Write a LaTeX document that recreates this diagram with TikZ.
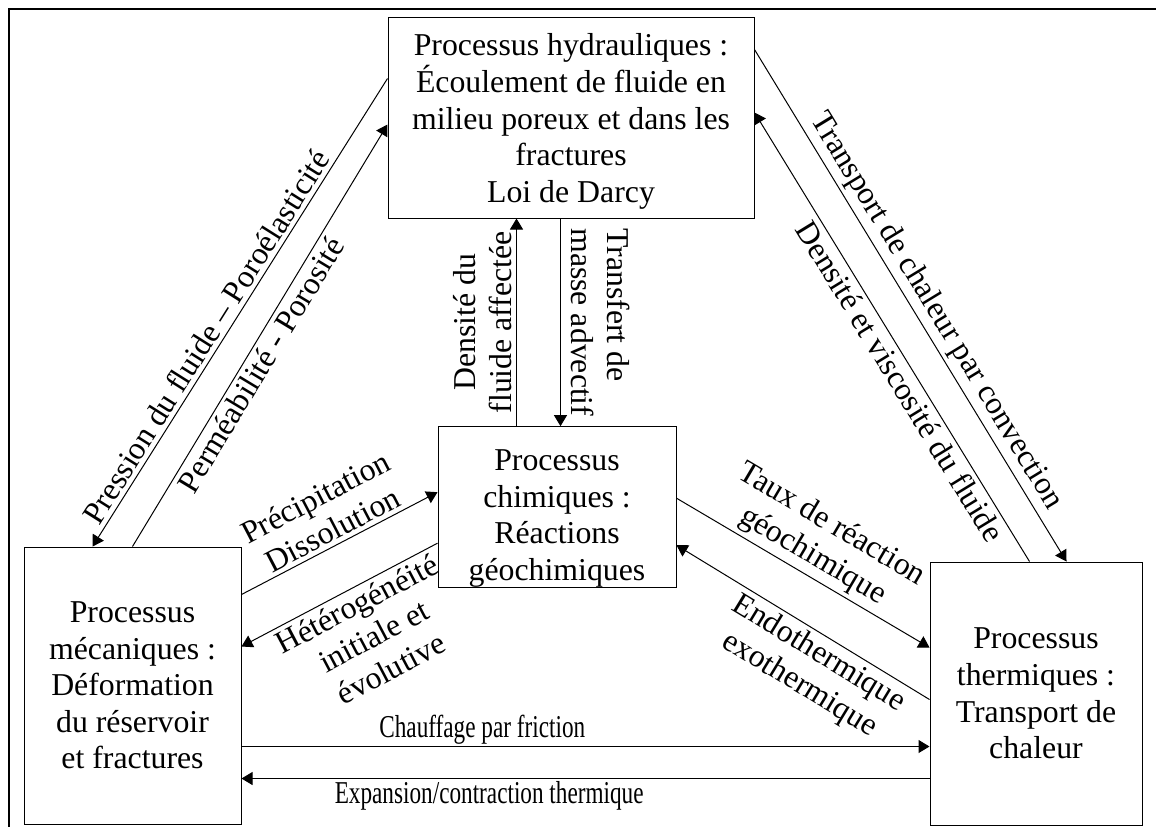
\documentclass[tikz,border=0pt]{standalone}
\usepackage{fontspec}
\setmainfont{Liberation Serif}
\usetikzlibrary{calc,arrows.meta}
\newcommand{\narrow}[1]{\scalebox{.73}[1]{#1}}

\begin{document}
\begin{tikzpicture}[->,>={Triangle[length=5.5pt,width=6.5pt]},x=0.5pt,y=-0.5pt,line width=0.5pt,
		font=\fontsize{15.9}{18.3}\selectfont]
		\tikzstyle{proc} = [rectangle,draw,align=center,inner sep=0pt]
		\tikzstyle{lbl}  = [align=center,inner sep=2pt]
		
		\useasboundingbox (0,0) rectangle (1156,827);
		\draw[-,line width=0.9pt] (1156,9) -- (9,9) -- (9,827);
		
		\node[proc,minimum width=183pt,minimum height=100.5pt] (hydro) at (571,117.5)
			{\rule{0pt}{15pt}Processus hydrauliques :\\Écoulement de fluide en\\milieu poreux et dans les\\fractures\\Loi de Darcy};
		\node[proc,minimum width=119pt,minimum height=76pt] (chem) at (557,507)
			{\rule{0pt}{22pt}Processus\\chimiques :\\Réactions\\géochimiques};
		\node[proc,minimum width=108.5pt,minimum height=138.5pt] (mech) at (132.5,685.5)
			{Processus\\mécaniques :\\Déformation\\du réservoir\\et fractures};
		\node[proc,minimum width=106pt,minimum height=131.5pt] (therm) at (1036,693.5)
			{Processus\\thermiques :\\Transport de\\chaleur};
		
		% hydraulique <-> mecanique
		\path ($(hydro.north west)+(0,62)$) edge node[lbl,sloped,above,pos=.57] {Pression du fluide – Poroélasticité} ($(mech.north west)+(69,0)$);
		\path ($(mech.north west)+(109,0)$) edge node[lbl,sloped,below,pos=.45] {Perméabilité - Porosité} ($(hydro.north west)+(0,108)$);
		
		% hydraulique <-> chimique
		\path ($(hydro.south west)+(173,0)$) edge node[lbl,rotate=-90,anchor=south,align=left,inner sep=5pt] {Transfert de\\masse advectif} ($(chem.north west)+(123,0)$);
		\path ($(chem.north west)+(79,0)$) edge node[lbl,rotate=90,anchor=south] {Densité du\\fluide affectée} ($(hydro.south west)+(129,0)$);
		
		% hydraulique <-> thermique
		\path ($(hydro.north east)+(0,33)$) edge node[lbl,sloped,above,pos=.53] {Transport de chaleur par convection} ($(therm.north west)+(137,0)$);
		\path ($(therm.north west)+(100,0)$) edge node[lbl,sloped,below,pos=.42] {Densité et viscosité du fluide} ($(hydro.north east)+(0,96)$);
		
		% mecanique <-> chimique
		\path ($(mech.north east)+(0,48)$) edge node[lbl,sloped,above,pos=.5] {Précipitation\\Dissolution} ($(chem.north west)+(0,66)$);
		\path ($(chem.north west)+(0,117)$) edge node[lbl,sloped,below,pos=.45] {Hétérogénéité\\initiale et\\évolutive} ($(mech.north east)+(0,100)$);
		
		% chimique <-> thermique
		\path ($(chem.north east)+(0,72)$) edge node[lbl,sloped,above,pos=.5] {Taux de réaction\\géochimique} ($(therm.north west)+(0,86)$);
		\path ($(therm.north west)+(0,138)$) edge node[lbl,sloped,below,pos=.4] {Endothermique\\exothermique} ($(chem.north east)+(0,119)$);
		
		% mecanique <-> thermique
		\path ($(mech.north east)+(0,200)$) edge node[lbl,above,pos=.35,inner sep=1pt] {\narrow{Chauffage par friction}} ($(therm.north west)+(0,185)$);
		\path ($(therm.north west)+(0,217)$) edge node[lbl,below,pos=.64,inner sep=1pt] {\narrow{Expansion/contraction thermique}} ($(mech.north east)+(0,232)$);
	\end{tikzpicture}
\end{document}
